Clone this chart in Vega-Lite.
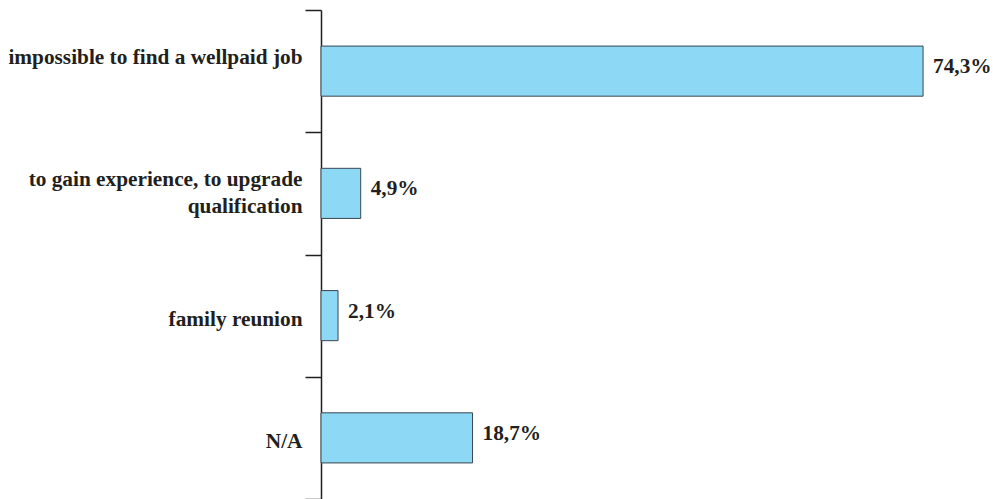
{
  "$schema": "https://vega.github.io/schema/vega-lite/v6.json",
  "width": 675,
  "height": 489,
  "autosize": "none",
  "padding": {"left": 321, "top": 10, "right": 0, "bottom": 0},
  "background": "white",
  "data": {"values": [
    {"reason": "impossible to find a wellpaid job", "value": 74.3, "label": "74,3%"},
    {"reason": "to gain experience, to upgrade|qualification", "value": 4.9, "label": "4,9%"},
    {"reason": "family reunion", "value": 2.1, "label": "2,1%"},
    {"reason": "N/A", "value": 18.7, "label": "18,7%"}
  ]},
  "encoding": {
    "y": {
      "field": "reason", "type": "nominal", "sort": null,
      "scale": {"paddingInner": 0, "paddingOuter": 0},
      "axis": {
        "title": null,
        "domainColor": "#231f20", "domainWidth": 1.5,
        "tickColor": "#231f20", "tickWidth": 1.5, "tickSize": 16,
        "tickBand": "extent",
        "labelPadding": 3,
        "labelFont": "Liberation Serif", "labelFontWeight": "bold", "labelFontSize": 21.3,
        "labelColor": "#231f20", "labelLimit": 0,
        "labelLineHeight": 27,
        "labelOffset": {
          "condition": {"test": "datum.value == 'impossible to find a wellpaid job' || datum.value == 'to gain experience, to upgrade|qualification'", "value": -13.5},
          "value": 4
        },
        "labelExpr": "split(datum.label, '|')"
      }
    },
    "x": {"field": "value", "type": "quantitative", "scale": {"domain": [0, 83.3]}, "axis": null}
  },
  "layer": [
    {"mark": {"type": "bar", "height": {"band": 0.41}, "fill": "#8dd8f5", "stroke": "#3a4650", "strokeWidth": 1}},
    {"mark": {"type": "text", "align": "left", "baseline": "middle", "dx": 10, "dy": -4, "font": "Liberation Serif", "fontWeight": "bold", "fontSize": 21.3, "color": "#231f20"},
     "encoding": {"text": {"field": "label"}}}
  ],
  "config": {"view": {"stroke": null}}
}
